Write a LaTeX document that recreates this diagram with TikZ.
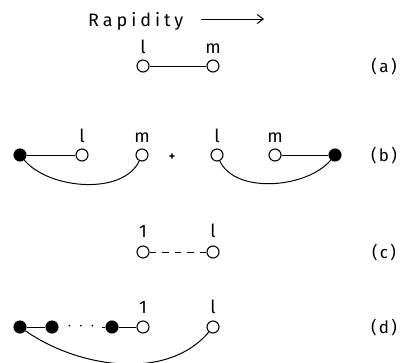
\documentclass[tikz,border=0pt]{standalone}
\usepackage{fontspec}
\setmainfont{Fira Sans}
\newfontfamily\rapfont[LetterSpace=22]{Fira Sans}
\newfontfamily\tagfont[LetterSpace=14]{Fira Sans}
\usetikzlibrary{arrows.meta}

\tikzset{
  open/.style={circle, draw, fill=white, line width=1.1pt, inner sep=0pt, minimum size=12pt},
  full/.style={open, fill=black},
  lbl/.style={anchor=base, inner sep=0pt, font=\fontsize{18}{21}\selectfont},
  tag/.style={inner sep=0pt, font=\tagfont\fontsize{17}{20}\selectfont},
  link/.style={line width=1pt},
}

\begin{document}
\begin{tikzpicture}[x=1pt, y=1pt]

  \useasboundingbox (0,0) rectangle (404,-362);

  % --- Header ---
  \node[anchor=base west, inner sep=0pt, font=\rapfont\fontsize{18}{21}\selectfont]
    (rap) at (88,-26) {Rapidity};
  \coordinate (arrA) at (201,-19);
  \coordinate (arrB) at (264,-19);
  \draw[link, -{Straight Barb[length=6pt,width=9pt]}] (arrA) -- (arrB);

  % --- (a) two open vertices ---
  \node[open] (a1) at (143,-66) {};
  \node[open] (a2) at (213,-66) {};
  \draw[link] (a1) -- (a2);
  \node[lbl] (la1) at (143,-53) {l};
  \node[lbl] (la2) at (213,-53) {m};
  \node[tag] (ta) at (384,-67) {(a)};

  % --- (b) left and right pieces ---
  \node[full] (f1) at (20,-155) {};
  \node[open] (b1) at (82,-155) {};
  \node[open] (b2) at (142,-155) {};
  \node[inner sep=0pt, font=\bfseries\fontsize{12}{14}\selectfont] (plus) at (172,-157) {+};
  \node[open] (b3) at (217,-155) {};
  \node[open] (b4) at (275,-155) {};
  \node[full] (f2) at (335,-155) {};
  \draw[link] (f1) -- (b1);
  \draw[link] (b4) -- (f2);
  \draw[link] (f1) to[out=-50, in=-115, looseness=0.85] (b2);
  \draw[link] (b3) to[out=-65, in=-130, looseness=0.85] (f2);
  \node[lbl] (lb1) at (82,-142) {l};
  \node[lbl] (lb2) at (142,-142) {m};
  \node[lbl] (lb3) at (217,-142) {l};
  \node[lbl] (lb4) at (275,-142) {m};
  \node[tag] (tb) at (384,-156) {(b)};

  % --- (c) dashed link ---
  \node[open] (c1) at (143,-252) {};
  \node[open] (c2) at (213,-252) {};
  \draw[link, dash pattern=on 6.5pt off 6pt] (c1) -- (c2);
  \node[lbl] (lc1) at (143,-237) {1};
  \node[lbl] (lc2) at (213,-237) {l};
  \node[tag] (tc) at (384,-253) {(c)};

  % --- (d) chain of full vertices ---
  \node[full] (d1) at (20,-327) {};
  \node[full] (d2) at (52,-327) {};
  \node[inner sep=0pt, font=\fontsize{16}{18}\selectfont] (dots) at (81,-327) {$\cdot\,\cdot\,\cdot$};
  \coordinate (stub) at (102,-327);
  \node[full] (d3) at (112,-327) {};
  \node[open] (d4) at (143,-327) {};
  \node[open] (d5) at (213,-327) {};
  \draw[link] (d1) -- (d2);
  \draw[link] (stub) -- (d3);
  \draw[link] (d3) -- (d4);
  \draw[link] (d1) to[out=-35, in=-130, looseness=0.9] (d5);
  \node[lbl] (ld1) at (143,-313) {1};
  \node[lbl] (ld2) at (213,-313) {l};
  \node[tag] (td) at (384,-328) {(d)};
\end{tikzpicture}
\end{document}
